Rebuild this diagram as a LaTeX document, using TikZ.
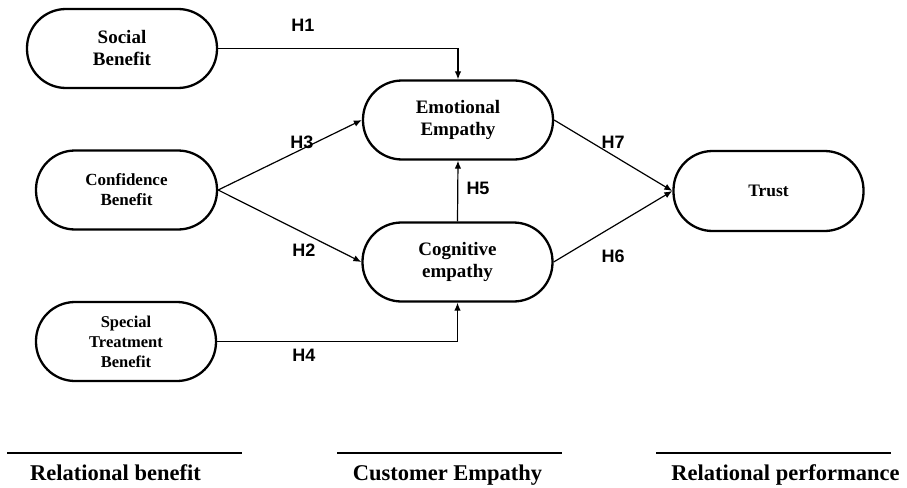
\documentclass[tikz,border=0pt]{standalone}
\usepackage{fontspec}
\setmainfont{Liberation Serif}
\setsansfont{Liberation Sans}
\usetikzlibrary{arrows.meta}
\newcommand{\sizeA}{\fontsize{19}{22}\selectfont}
\newcommand{\sizeB}{\fontsize{17}{20}\selectfont}
\newcommand{\sizeC}{\fontsize{22.5}{26}\selectfont}

\begin{document}
\begin{tikzpicture}[
  x=1pt,y=-1pt,
  construct/.style={draw,line width=2.3pt,rounded corners=39pt,minimum width=190pt,minimum height=79pt,align=center,inner sep=0pt,font=\bfseries\sizeA},
  hyp/.style={font=\sffamily\bfseries\fontsize{18}{20}\selectfont,inner sep=0pt},
  group/.style={font=\bfseries\sizeC,inner sep=0pt,anchor=base},
  link/.style={-{Latex[length=8pt,width=6.5pt]},line width=1.2pt},
  rule/.style={line width=1.4pt}
]
\useasboundingbox (0,0) rectangle (907,487);
% relational benefit
\node[construct] (social) at (122,48.5) {Social\\Benefit};
\node[construct,minimum width=181pt,font=\bfseries\sizeB] (conf) at (126.5,190) {Confidence\\Benefit};
\node[construct,minimum width=180pt,font=\bfseries\fontsize{16.5}{20}\selectfont] (special) at (126,341.5) {Special\\Treatment\\Benefit};
% customer empathy
\node[construct] (emo) at (458,120) {Emotional\\Empathy};
\node[construct] (cog) at (457.5,262) {Cognitive\\empathy};
% relational performance
\node[construct,minimum height=80pt,font=\bfseries\fontsize{17.5}{20}\selectfont] (trust) at (768.5,191) {Trust};

\draw[link] (social.east) -| (emo.north);
\draw[link] (conf.east) -- (emo.west);
\draw[link] (conf.east) -- (cog.west);
\draw[link] (special.east) -| (cog.south);
\draw[link] (cog.north) -- (emo.south);
\draw[link] (emo.east) -- (trust.west);
\draw[link] (cog.east) -- (trust.west);

\node[hyp] (h1) at (303,25) {H1};
\node[hyp] (h3) at (302,142) {H3};
\node[hyp] (h2) at (304,250) {H2};
\node[hyp] (h4) at (304,355) {H4};
\node[hyp] (h5) at (478,188) {H5};
\node[hyp] (h7) at (613,142) {H7};
\node[hyp] (h6) at (613,256) {H6};

% group rules and captions
\coordinate (r1a) at (7,453);   \coordinate (r1b) at (242,453);
\coordinate (r2a) at (337,453); \coordinate (r2b) at (562,453);
\coordinate (r3a) at (656,453); \coordinate (r3b) at (891,453);
\draw[rule] (r1a) -- (r1b);
\draw[rule] (r2a) -- (r2b);
\draw[rule] (r3a) -- (r3b);
\node[group] (grpben) at (115.5,480) {Relational benefit};
\node[group] (grpemp) at (447.5,480) {Customer Empathy};
\node[group] (grpperf) at (785.5,480) {Relational performance};
\end{tikzpicture}
\end{document}
